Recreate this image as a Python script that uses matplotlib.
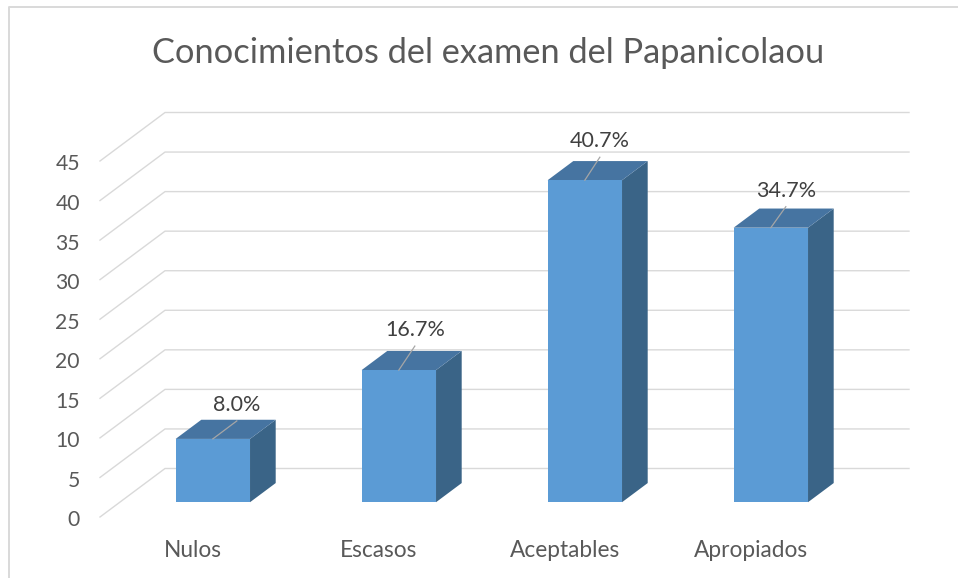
import matplotlib
matplotlib.use('Agg')
import matplotlib.pyplot as plt
from matplotlib.patches import Polygon
from matplotlib.lines import Line2D
from matplotlib.transforms import IdentityTransform

# ---- data ----
categories = ['Nulos', 'Escasos', 'Aceptables', 'Apropiados']
values = [8.0, 16.7, 40.7, 34.7]
value_labels = ['8.0%', '16.7%', '40.7%', '34.7%']
yticks = [0, 5, 10, 15, 20, 25, 30, 35, 40, 45]
title = 'Conocimientos del examen del Papanicolaou'

# ---- style ----
plt.rcParams['font.family'] = ['Lato', 'DejaVu Sans']
W, H = 958, 578
TXT = '#595959'
GRID = '#d9d9d9'
FRONT = '#5b9bd5'
TOP = '#4674a1'
SIDE = '#3a6487'
DX, DY = 65.0, 48.5          # depth vector of the floor (pixels, display up)
D_FRONT, D_BACK = 0.305, 0.700
BAR_W = 0.4
label_dx = [24, 16, 15, 15]
label_dy = [28, 34, 33, 31]

fig = plt.figure(figsize=(W / 100, H / 100), dpi=100)
fig.patch.set_facecolor('white')
ax = fig.add_axes([100 / W, 61 / H, 744 / W, 356 / H])
ax.set_xlim(-0.5, len(categories) - 0.5)
ax.set_ylim(0, 45)
ax.axis('off')
ID = IdentityTransform()
renderer = fig.canvas.get_renderer()


def P(x, v, d=0.0):
    bx, by = ax.transData.transform((x, v))
    return (bx + d * DX, by + d * DY)


def line(pts, **kw):
    xs = [p[0] for p in pts]
    ys = [p[1] for p in pts]
    fig.add_artist(Line2D(xs, ys, transform=ID, **kw))


def fit(t, target):
    bb = t.get_window_extent(renderer)
    t.set_fontsize(t.get_fontsize() * target / bb.width)
    return t.get_fontsize()


# chart border (top / left visible)
line([(9, -5), (9, H - 7), (W + 5, H - 7)], color=GRID, lw=1.4, zorder=0)

# back wall grid + side diagonals
x0, x1 = -0.5, len(categories) - 0.5
for v in yticks:
    line([P(x0, v), P(x0, v, 1), P(x1, v, 1)], color=GRID, lw=1.0, zorder=1)

# tick labels
tk = []
for v in yticks:
    px, py = P(x0, v)
    tk.append(fig.text(px - 20, py - 9.5, str(v), transform=ID, ha='right',
                       va='baseline', color=TXT, fontsize=16))
fs = fit(tk[-1], 24.5)
for t in tk:
    t.set_fontsize(fs)

# bars
for i, v in enumerate(values):
    xl, xr = i - BAR_W / 2, i + BAR_W / 2
    front = [P(xl, 0, D_FRONT), P(xr, 0, D_FRONT), P(xr, v, D_FRONT), P(xl, v, D_FRONT)]
    side = [P(xr, 0, D_FRONT), P(xr, 0, D_BACK), P(xr, v, D_BACK), P(xr, v, D_FRONT)]
    top = [P(xl, v, D_FRONT), P(xr, v, D_FRONT), P(xr, v, D_BACK), P(xl, v, D_BACK)]
    for poly, c in ((side, SIDE), (top, TOP), (front, FRONT)):
        fig.add_artist(Polygon(poly, closed=True, transform=ID, facecolor=c,
                               edgecolor='none', zorder=3))

# data labels with leader lines
dl = []
for i, (v, s) in enumerate(zip(values, value_labels)):
    fx, fy = P(i, v, D_FRONT)
    lx, ly = fx + label_dx[i], fy + label_dy[i]
    line([(fx, fy), (lx, ly - 10)], color='#a6a6a6', lw=0.9, zorder=4)
    dl.append(fig.text(lx, ly, s, transform=ID, ha='center', va='baseline',
                       color='#404040', fontsize=16, zorder=5))
fs = fit(dl[1], 60)
for t in dl:
    t.set_fontsize(fs)

# category labels
cl = []
for i, c in enumerate(categories):
    px, py = P(i, 0)
    cl.append(fig.text(px, py - 40, c, transform=ID, ha='center', va='baseline',
                       color=TXT, fontsize=16))
fs = fit(cl[2], 110)
for t in cl:
    t.set_fontsize(fs)

# title
tt = fig.text(488.5, H - 63.3, title, transform=ID, ha='center', va='baseline',
              color=TXT, fontsize=26)
fit(tt, 672)

fig.savefig('out.png', dpi=100, facecolor='white')
